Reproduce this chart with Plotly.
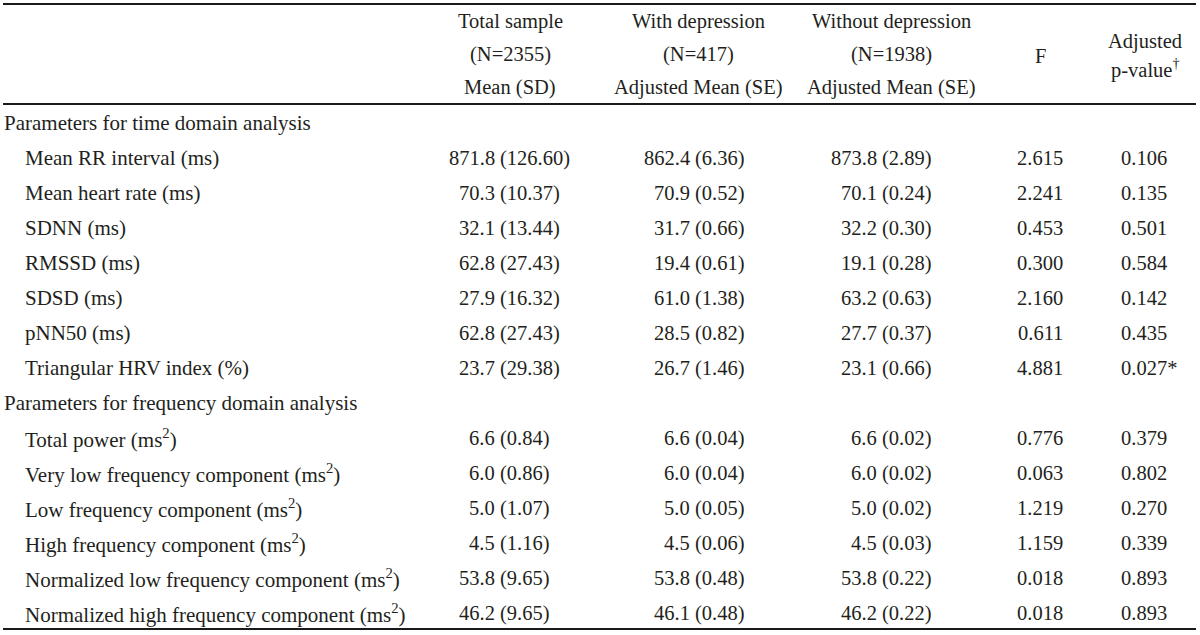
import plotly.graph_objects as go

# ---------------- data ----------------
section_titles = ["Parameters for time domain analysis",
                  "Parameters for frequency domain analysis"]
time_params = ["Mean RR interval (ms)", "Mean heart rate (ms)", "SDNN (ms)",
               "RMSSD (ms)", "SDSD (ms)", "pNN50 (ms)", "Triangular HRV index (%)"]
freq_params = ["Total power (ms<sup>2</sup>)",
               "Very low frequency component (ms<sup>2</sup>)",
               "Low frequency component (ms<sup>2</sup>)",
               "High frequency component (ms<sup>2</sup>)",
               "Normalized low frequency component (ms<sup>2</sup>)",
               "Normalized high frequency component (ms<sup>2</sup>)"]

total_mean = ["871.8", "70.3", "32.1", "62.8", "27.9", "62.8", "23.7",
              "6.6", "6.0", "5.0", "4.5", "53.8", "46.2"]
total_sd = ["126.60", "10.37", "13.44", "27.43", "16.32", "27.43", "29.38",
            "0.84", "0.86", "1.07", "1.16", "9.65", "9.65"]
dep_mean = ["862.4", "70.9", "31.7", "19.4", "61.0", "28.5", "26.7",
            "6.6", "6.0", "5.0", "4.5", "53.8", "46.1"]
dep_se = ["6.36", "0.52", "0.66", "0.61", "1.38", "0.82", "1.46",
          "0.04", "0.04", "0.05", "0.06", "0.48", "0.48"]
nodep_mean = ["873.8", "70.1", "32.2", "19.1", "63.2", "27.7", "23.1",
              "6.6", "6.0", "5.0", "4.5", "53.8", "46.2"]
nodep_se = ["2.89", "0.24", "0.30", "0.28", "0.63", "0.37", "0.66",
            "0.02", "0.02", "0.02", "0.03", "0.22", "0.22"]
f_values = ["2.615", "2.241", "0.453", "0.300", "2.160", "0.611", "4.881",
            "0.776", "0.063", "1.219", "1.159", "0.018", "0.018"]
p_values = ["0.106", "0.135", "0.501", "0.584", "0.142", "0.435", "0.027*",
            "0.379", "0.802", "0.270", "0.339", "0.893", "0.893"]

header_total = ["Total sample", "(N=2355)", "Mean (SD)"]
header_dep = ["With depression", "(N=417)", "Adjusted Mean (SE)"]
header_nodep = ["Without depression", "(N=1938)", "Adjusted Mean (SE)"]
header_f = ["F"]
header_p = ["Adjusted", "p-value<sup>†</sup>"]

# ---------------- style / layout ----------------
FONT = "Liberation Serif"
FS_LABEL = 21
FS_NUM = 20.5
FS_HDR = 20.5
COLOR = "#231f20"
W, H = 1200, 635

ROW0 = 123      # centre of first body row
ROW_STEP = 35
X_SECTION = 4
X_PARAM = 25
X_TOTAL, X_DEP, X_NODEP = 495, 690, 877     # decimal anchors
GAP = 5
X_F = 1040
X_P = 1121
HDR_CENTERS = [510, 698, 891, 1040, 1145]

ann = []


def add(text, x, y, xanchor="left", size=FS_NUM):
    ann.append(dict(text=text, x=x, y=y, xref="x", yref="y", xanchor=xanchor,
                    yanchor="middle", showarrow=False, borderpad=0, borderwidth=0,
                    font=dict(family=FONT, size=size, color=COLOR)))


# header
for cx, lines in zip(HDR_CENTERS[:3], [header_total, header_dep, header_nodep]):
    for j, t in enumerate(lines):
        add(t, cx, 21 + 33 * j, "center", FS_HDR)
add(header_f[0], HDR_CENTERS[3], 56, "center", FS_HDR)
for j, t in enumerate(header_p):
    add(t, HDR_CENTERS[4], 41 + 27 * j, "center", FS_HDR)

# body
row = 0
data_i = 0
for title, params in zip(section_titles, [time_params, freq_params]):
    add(title, X_SECTION, ROW0 + ROW_STEP * row, "left", FS_LABEL)
    row += 1
    for p in params:
        y = ROW0 + ROW_STEP * row
        add(p, X_PARAM, y, "left", FS_LABEL)
        for xa, m, s in [(X_TOTAL, total_mean, total_sd),
                         (X_DEP, dep_mean, dep_se),
                         (X_NODEP, nodep_mean, nodep_se)]:
            add(m[data_i], xa, y, "right")
            add("(" + s[data_i] + ")", xa + GAP, y, "left")
        add(f_values[data_i], X_F, y, "center")
        add(p_values[data_i], X_P, y, "left")
        row += 1
        data_i += 1

rules = [4, 104, 629]
shapes = [dict(type="line", xref="x", yref="y", x0=3, x1=1196, y0=yy, y1=yy,
               line=dict(color="#1a1a1a", width=2)) for yy in rules]

fig = go.Figure()
fig.update_layout(width=W, height=H, margin=dict(l=0, r=0, t=0, b=0),
                  paper_bgcolor="white", plot_bgcolor="white",
                  xaxis=dict(range=[0, W], visible=False, fixedrange=True),
                  yaxis=dict(range=[H, 0], visible=False, fixedrange=True),
                  annotations=ann, shapes=shapes, showlegend=False)
fig.write_html("out.html", config={"displayModeBar": False},
               post_script="document.body.style.margin='0';document.body.style.padding='0';")
